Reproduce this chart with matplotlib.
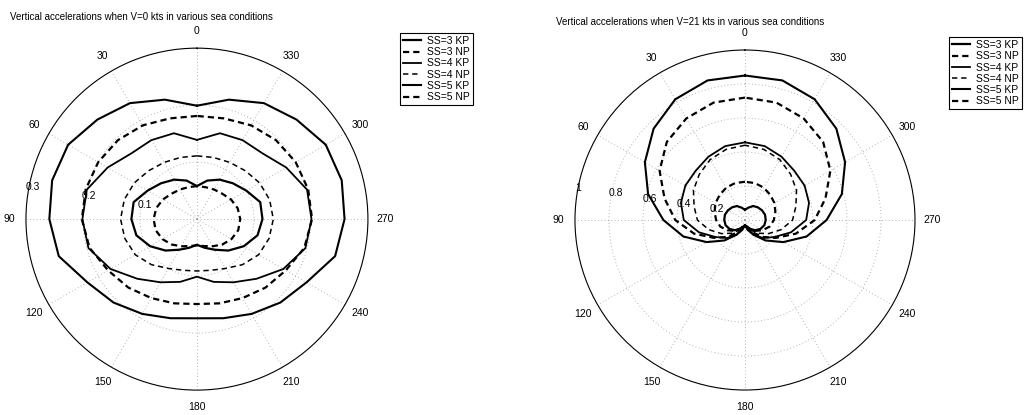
import numpy as np
import matplotlib
matplotlib.use('Agg')
import matplotlib.pyplot as plt

plt.rcParams['font.family'] = ['Liberation Sans', 'DejaVu Sans']

# heading angles (deg), 0..345 in 15 deg steps
angles_deg = [0, 15, 30, 45, 60, 75, 90, 105, 120, 135, 150, 165,
              180, 195, 210, 225, 240, 255, 270, 285, 300, 315, 330, 345]

labels = ['SS=3 KP', 'SS=3 NP', 'SS=4 KP', 'SS=4 NP', 'SS=5 KP', 'SS=5 NP']

# V = 0 kts
v0_ss3_kp = [0.058, 0.070, 0.080, 0.089, 0.100, 0.115, 0.115, 0.110, 0.095, 0.078, 0.062, 0.052,
             0.045, 0.052, 0.062, 0.078, 0.095, 0.110, 0.115, 0.115, 0.100, 0.089, 0.080, 0.070]
v0_ss3_np = [0.058, 0.058, 0.060, 0.063, 0.069, 0.074, 0.076, 0.075, 0.070, 0.063, 0.055, 0.049,
             0.046, 0.049, 0.055, 0.063, 0.070, 0.075, 0.076, 0.074, 0.069, 0.063, 0.060, 0.058]
v0_ss4_kp = [0.139, 0.156, 0.160, 0.163, 0.181, 0.200, 0.201, 0.197, 0.175, 0.148, 0.128, 0.114,
             0.101, 0.114, 0.128, 0.148, 0.175, 0.197, 0.201, 0.200, 0.181, 0.163, 0.160, 0.156]
v0_ss4_np = [0.111, 0.112, 0.115, 0.120, 0.127, 0.132, 0.134, 0.131, 0.125, 0.113, 0.100, 0.093,
             0.091, 0.093, 0.100, 0.113, 0.125, 0.131, 0.134, 0.132, 0.127, 0.120, 0.115, 0.112]
v0_ss5_kp = [0.199, 0.217, 0.235, 0.247, 0.261, 0.263, 0.259, 0.251, 0.222, 0.207, 0.192, 0.180,
             0.174, 0.180, 0.192, 0.207, 0.222, 0.251, 0.259, 0.263, 0.261, 0.247, 0.235, 0.217]
v0_ss5_np = [0.181, 0.183, 0.190, 0.196, 0.200, 0.202, 0.202, 0.195, 0.180, 0.170, 0.160, 0.153,
             0.149, 0.153, 0.160, 0.170, 0.180, 0.195, 0.202, 0.202, 0.200, 0.196, 0.190, 0.183]

# V = 21 kts
v21_ss3_kp = [0.060, 0.075, 0.095, 0.106, 0.115, 0.122, 0.122, 0.118, 0.105, 0.085, 0.060, 0.040,
              0.030, 0.040, 0.060, 0.085, 0.105, 0.118, 0.122, 0.122, 0.115, 0.106, 0.095, 0.075]
v21_ss3_np = [0.225, 0.225, 0.220, 0.210, 0.200, 0.185, 0.170, 0.150, 0.120, 0.090, 0.060, 0.040,
              0.030, 0.040, 0.060, 0.090, 0.120, 0.150, 0.170, 0.185, 0.200, 0.210, 0.220, 0.225]
v21_ss4_kp = [0.457, 0.450, 0.430, 0.410, 0.405, 0.390, 0.360, 0.280, 0.200, 0.150, 0.100, 0.050,
              0.030, 0.050, 0.100, 0.150, 0.200, 0.280, 0.360, 0.390, 0.405, 0.410, 0.430, 0.450]
v21_ss4_np = [0.440, 0.430, 0.410, 0.380, 0.350, 0.310, 0.280, 0.220, 0.160, 0.110, 0.070, 0.040,
              0.030, 0.040, 0.070, 0.110, 0.160, 0.220, 0.280, 0.310, 0.350, 0.380, 0.410, 0.430]
v21_ss5_kp = [0.850, 0.850, 0.820, 0.760, 0.680, 0.590, 0.480, 0.375, 0.260, 0.170, 0.100, 0.060,
              0.030, 0.060, 0.100, 0.170, 0.260, 0.375, 0.480, 0.590, 0.680, 0.760, 0.820, 0.850]
v21_ss5_np = [0.720, 0.715, 0.690, 0.650, 0.580, 0.490, 0.410, 0.310, 0.210, 0.140, 0.080, 0.045,
              0.030, 0.045, 0.080, 0.140, 0.210, 0.310, 0.410, 0.490, 0.580, 0.650, 0.690, 0.715]

# line styles per legend entry
styles = [
    dict(color='k', lw=1.6, ls='-'),
    dict(color='k', lw=1.6, ls=(0, (2.8, 1.8))),
    dict(color='k', lw=1.3, ls='-'),
    dict(color='k', lw=1.1, ls=(0, (3.5, 2.5))),
    dict(color='k', lw=1.5, ls='-'),
    dict(color='k', lw=1.6, ls=(0, (2.8, 1.8))),
]


def polar_panel(fig, rect, series, rmax, rticks, rlabels, title, title_xy, legend_xy):
    ax = fig.add_axes(rect, projection='polar')
    ax.set_theta_zero_location('N')
    ax.set_theta_direction(1)
    th = np.deg2rad(angles_deg + [360])
    for vals, lab, st in zip(series, labels, styles):
        ax.plot(th, list(vals) + [vals[0]], label=lab, **st)
    ax.set_ylim(0, rmax)
    ax.set_xticks(np.deg2rad(np.arange(0, 360, 30)))
    ax.set_xticklabels([])
    ax.set_yticks(rticks[:-1])
    ax.set_yticklabels([])
    ax.grid(True, ls=(0, (1, 3)), color='0.6', lw=0.6)
    ax.spines['polar'].set_color('k')
    ax.spines['polar'].set_linewidth(0.8)
    # angle labels outside the circle
    for a in range(0, 360, 30):
        ax.text(np.deg2rad(a), 1.1 * rmax, str(a), ha='center', va='center',
                fontsize=7.5, clip_on=False)
    # radial labels
    rinc = rticks[1] - rticks[0]
    for r, lab in zip(rticks, rlabels):
        ax.text(np.deg2rad(81), r + rinc / 20, lab, ha='left', va='bottom',
                fontsize=7.5, clip_on=False)
    fig.text(title_xy[0], title_xy[1], title, ha='left', va='center', fontsize=7)
    leg = ax.legend(loc='upper left', bbox_to_anchor=legend_xy, bbox_transform=fig.transFigure,
                    fancybox=False, edgecolor='k', framealpha=1, fontsize=7.5,
                    borderpad=0.3, handlelength=1.7, handletextpad=0.6,
                    labelspacing=0.12, borderaxespad=0)
    leg.get_frame().set_linewidth(0.8)
    return ax


fig = plt.figure(figsize=(10.26, 4.15), dpi=100)

polar_panel(fig, [0.0253, 0.060, 0.3333, 0.824],
            [v0_ss3_kp, v0_ss3_np, v0_ss4_kp, v0_ss4_np, v0_ss5_kp, v0_ss5_np],
            0.3, [0.1, 0.2, 0.3], ['0.1', '0.2', '0.3'],
            'Vertical accelerations when V=0 kts in various sea conditions',
            (0.010, 0.959), (0.390, 0.921))

polar_panel(fig, [0.5604, 0.0602, 0.3314, 0.8193],
            [v21_ss3_kp, v21_ss3_np, v21_ss4_kp, v21_ss4_np, v21_ss5_kp, v21_ss5_np],
            1.0, [0.2, 0.4, 0.6, 0.8, 1.0], ['0.2', '0.4', '0.6', '0.8', '1'],
            'Vertical accelerations when V=21 kts in various sea conditions',
            (0.542, 0.947), (0.925, 0.911))

fig.savefig('out.png', dpi=100)
